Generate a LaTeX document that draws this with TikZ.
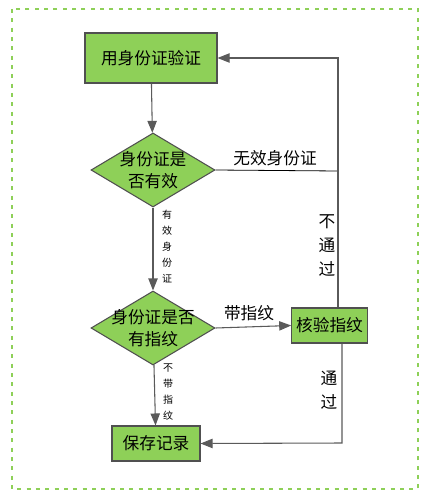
\documentclass[tikz,border=0pt]{standalone}
\usepackage{fontspec}
\setmainfont{Noto Sans CJK SC}
\definecolor{FlowGreen}{RGB}{142,208,88}
\definecolor{FlowEdge}{RGB}{80,80,80}
\definecolor{FlowArrow}{RGB}{90,90,90}
\usetikzlibrary{
    shapes.geometric,
    arrows.meta,
    positioning,
    calc,
}
\tikzset{
    procbox/.style={rectangle, draw=FlowEdge, fill=FlowGreen, line width=0.8pt, font=\fontsize{12.5}{15}\selectfont},
    decision/.style={diamond, draw=FlowEdge, fill=FlowGreen, line width=0.8pt, shape aspect=1.676, inner sep=-4pt, minimum width=93pt, minimum height=55.5pt, align=center, font=\fontsize{12.5}{16.5}\selectfont},
    flow/.style={draw=FlowArrow, line width=0.8pt, -{Triangle[length=9pt,width=7pt]}},
    bigtag/.style={align=center, font=\fontsize{12.5}{18}\selectfont},
    smalltag/.style={align=center, font=\fontsize{7.5}{12}\selectfont},
}

\begin{document}
\begin{tikzpicture}[x=0.75pt, y=-0.75pt]
        \useasboundingbox (0,0) rectangle (428,503);
        \draw[FlowGreen, line width=0.8pt, dash pattern=on 3pt off 4pt] (12,9) rectangle (418,489);
        \node[procbox, minimum width=99pt, minimum height=37.5pt] (idbox) at (151,58) {用身份证验证};
        \node[decision] (idcheck) at (153,170) {身份证是\\否有效};
        \node[decision] (fpcheck) at (153,328) {身份证是否\\有指纹};
        \node[procbox, minimum width=56.25pt, minimum height=26.25pt] (verify) at (329.5,325.5) {核验指纹};
        \node[procbox, minimum width=66pt, minimum height=26.25pt] (save) at (156,443.5) {保存记录};
        \coordinate (rejtop) at (338,58);
        \coordinate (rejmid) at (338,171);
        \coordinate (passbot) at (342,443);
        \draw[flow] (idbox) -- (idcheck);
        \draw[flow] (idcheck) -- (fpcheck);
        \draw[flow] (fpcheck) -- (save);
        \draw[flow] (fpcheck.east) -- (verify.west);
        \draw[black, line width=0.6pt] (idcheck.east) -- (rejmid);
        \draw[flow] (verify.north -| rejtop) -- (rejtop) -- (idbox.east);
        \draw[flow] (verify.south -| passbot) -- (passbot) -- (save.east);
        \node[font=\fontsize{12.5}{15}\selectfont] (invalid) at (275,158) {无效身份证};
        \node[font=\fontsize{12.5}{15}\selectfont] (hasfp) at (249,313) {带指纹};
        \node[smalltag] (valid) at (167,247) {有\\效\\身\\份\\证};
        \node[smalltag] (nofp) at (168,392) {不\\带\\指\\纹};
        \node[bigtag] (fail) at (327,246) {不\\通\\过};
        \node[bigtag] (pass) at (329,390) {通\\过};
    \end{tikzpicture}
\end{document}
